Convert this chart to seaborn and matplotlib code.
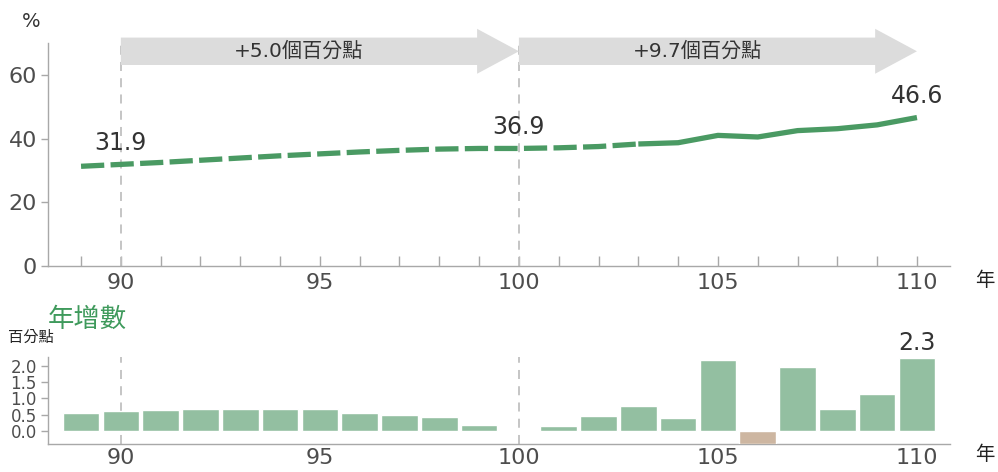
import matplotlib
matplotlib.use("Agg")
import matplotlib.pyplot as plt
import matplotlib.patches as mpatches
from matplotlib.ticker import MultipleLocator
import seaborn as sns
import pandas as pd

# ---------------- data ----------------
line_years = [89, 90, 91, 92, 93, 94, 95, 96, 97, 98, 99, 100,
              101, 102, 103, 104, 105, 106, 107, 108, 109, 110]
line_rate = [31.3, 31.9, 32.5, 33.2, 33.9, 34.6, 35.2, 35.8, 36.3, 36.7, 36.9, 36.9,
             37.1, 37.5, 38.3, 38.7, 41.0, 40.5, 42.5, 43.1, 44.3, 46.6]
solid_from = 103

bar_years = [89, 90, 91, 92, 93, 94, 95, 96, 97, 98, 99,
             101, 102, 103, 104, 105, 106, 107, 108, 109, 110]
bar_change = [0.55, 0.60, 0.64, 0.67, 0.67, 0.68, 0.67, 0.55, 0.48, 0.42, 0.18,
              0.15, 0.47, 0.78, 0.41, 2.18, -0.40, 1.96, 0.67, 1.14, 2.25]

x_ticks = [90, 95, 100, 105, 110]
top_yticks = [0, 20, 40, 60]
bot_yticks = [0.0, 0.5, 1.0, 1.5, 2.0]
periods = [(90, 100, "+5.0個百分點"), (100, 110, "+9.7個百分點")]
labels_top = [(90, 31.9, "31.9"), (100, 36.9, "36.9"), (110, 46.6, "46.6")]
label_bot = (110, 2.3, "2.3")

# ---------------- style ----------------
sns.set_style("ticks")
plt.rcParams["font.family"] = ["DejaVu Sans", "Noto Sans CJK TC"]

LINE_C = "#4a9a63"
BAR_POS = "#93bfa1"
BAR_NEG = "#cdb6a1"
ARROW_C = "#dcdcdc"
SPINE_C = "#a8a8a8"
TICK_TXT = "#4d4d4d"
VLINE_C = "#c0c0c0"

fig = plt.figure(figsize=(9.98, 4.72), dpi=100)
ax = fig.add_axes([0.0481, 0.4364, 0.9038, 0.4725])
axb = fig.add_axes([0.0481, 0.0593, 0.9038, 0.1843])

XMIN, XMAX = 88.17, 110.83

# ---------------- top panel ----------------
df_line = pd.DataFrame({"year": line_years, "rate": line_rate})
dash_part = df_line[df_line["year"] <= solid_from]
solid_part = df_line[df_line["year"] >= solid_from]
sns.lineplot(data=dash_part, x="year", y="rate", ax=ax, color=LINE_C, lw=3.8,
             linestyle=(0, (4.4, 1.2)), zorder=4)
sns.lineplot(data=solid_part, x="year", y="rate", ax=ax, color=LINE_C, lw=3.8,
             solid_capstyle="butt", zorder=4)

ax.set_xlim(XMIN, XMAX)
ax.set_ylim(0, 70)
ax.set_xticks(x_ticks)
ax.xaxis.set_minor_locator(MultipleLocator(1))
ax.set_yticks(top_yticks)
ax.tick_params(axis="x", which="both", direction="in", length=7, width=1,
               color=SPINE_C, labelsize=16, labelcolor=TICK_TXT, pad=5)
ax.tick_params(axis="y", direction="out", length=5, width=1, color=SPINE_C,
               labelsize=16, labelcolor=TICK_TXT, pad=3)
for s in ["top", "right"]:
    ax.spines[s].set_visible(False)
for s in ["left", "bottom"]:
    ax.spines[s].set_color(SPINE_C)
    ax.spines[s].set_linewidth(1)
ax.set_xlabel("")
ax.set_ylabel("")

for xv in [90, 100]:
    ax.axvline(xv, color=VLINE_C, lw=1.3, linestyle=(0, (5, 4)), zorder=1)

# arrows
for x0, x1, txt in periods:
    arr = mpatches.FancyArrow(x0, 67.4, (x1 - x0), 0, width=8.6, head_width=14.1,
                              head_length=1.05, length_includes_head=True,
                              color=ARROW_C, lw=0, clip_on=False, zorder=3)
    ax.add_patch(arr)
    ax.text((x0 + x1 - 1.05) / 2, 67.6, txt, ha="center", va="center",
            fontsize=14.5, color="#333333", clip_on=False, zorder=5)

for xv, yv, t in labels_top:
    ax.annotate(t, (xv, yv), xytext=(0, 7), textcoords="offset points",
                ha="center", va="bottom", fontsize=17, color="#333333")

fig.text(0.022, 0.955, "%", fontsize=14, color="#333333", ha="left", va="center")
fig.text(0.977, 0.405, "年", fontsize=14, color="#222222", ha="left", va="center")

# ---------------- bottom panel ----------------
df_bar = pd.DataFrame({"year": bar_years, "chg": bar_change})
df_bar["sign"] = ["neg" if v < 0 else "pos" for v in bar_change]
sns.barplot(data=df_bar, x="year", y="chg", hue="sign",
            palette={"pos": BAR_POS, "neg": BAR_NEG}, native_scale=True,
            dodge=False, width=0.92, errorbar=None, legend=False,
            edgecolor="white", linewidth=1, saturation=1, ax=axb, zorder=3)

axb.set_xlim(XMIN, XMAX)
axb.set_ylim(-0.40, 2.27)
axb.set_xticks(x_ticks)
axb.set_xticklabels([str(v) for v in x_ticks])
axb.set_yticks(bot_yticks)
axb.set_yticklabels([f"{v:.1f}" for v in bot_yticks])
axb.tick_params(axis="x", length=0, labelsize=16, labelcolor=TICK_TXT, pad=3)
axb.tick_params(axis="y", direction="out", length=5, width=1, color=SPINE_C,
                labelsize=12, labelcolor=TICK_TXT, pad=3)
for s in ["top", "right"]:
    axb.spines[s].set_visible(False)
for s in ["left", "bottom"]:
    axb.spines[s].set_color(SPINE_C)
    axb.spines[s].set_linewidth(1)
axb.set_xlabel("")
axb.set_ylabel("")
for xv in [90, 100]:
    axb.axvline(xv, color=VLINE_C, lw=1.3, linestyle=(0, (5, 4)), zorder=1)

xv, yv, t = label_bot
axb.annotate(t, (xv, yv), xytext=(0, 1), textcoords="offset points",
             ha="center", va="bottom", fontsize=17, color="#333333",
             annotation_clip=False)

fig.text(0.048, 0.322, "年增數", fontsize=19, color="#3f9a5c", ha="left", va="center")
fig.text(0.008, 0.285, "百分點", fontsize=11, color="#222222", ha="left", va="center")
fig.text(0.977, 0.037, "年", fontsize=14, color="#222222", ha="left", va="center")

fig.savefig("out.png", dpi=100)
